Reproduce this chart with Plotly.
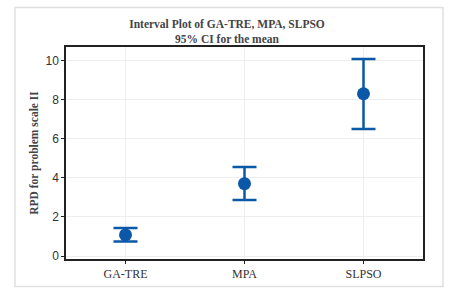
import plotly.graph_objects as go

categories = ["GA-TRE", "MPA", "SLPSO"]
means = [1.08, 3.70, 8.30]
upper = [1.44, 4.55, 10.08]
lower = [0.75, 2.87, 6.50]
y_ticks = [0, 2, 4, 6, 8, 10]

err_plus = [u - m for u, m in zip(upper, means)]
err_minus = [m - l for m, l in zip(means, lower)]

blue = "#0B57A8"
serif = "Liberation Serif, Times New Roman, serif"
sans = "Liberation Sans, Arial, sans-serif"

fig = go.Figure()
fig.add_trace(go.Scatter(
    x=categories, y=means, mode="markers",
    marker=dict(color=blue, size=13),
    error_y=dict(type="data", symmetric=False, array=err_plus, arrayminus=err_minus,
                 color=blue, thickness=2.5, width=12),
    showlegend=False,
))

fig.update_layout(
    width=454, height=293,
    margin=dict(l=66, r=31, t=47, b=31),
    paper_bgcolor="white", plot_bgcolor="white",
    title=dict(
        text="<b>Interval Plot of GA-TRE, MPA, SLPSO</b><br><b>95% CI for the mean</b>",
        x=0.5, xanchor="center", y=0.905, yanchor="top",
        font=dict(family=serif, size=11.5, color="#444444"),
    ),
    xaxis=dict(
        type="category", range=[-0.5, 2.5],
        showgrid=True, gridcolor="#EEEEEE", gridwidth=1,
        showline=True, linecolor="#222222", linewidth=1.5, mirror=True,
        ticks="outside", ticklen=3, tickcolor="#222222",
        tickfont=dict(family=serif, size=12, color="#333333"),
        zeroline=False,
    ),
    yaxis=dict(
        range=[-0.15, 10.69], tickvals=y_ticks,
        showgrid=True, gridcolor="#EEEEEE", gridwidth=1,
        showline=True, linecolor="#222222", linewidth=1.5, mirror=True,
        ticks="outside", ticklen=3, tickcolor="#222222",
        tickfont=dict(family=sans, size=12, color="#333333"),
        zeroline=False,
        title=dict(text="<b>RPD for problem scale II</b>", standoff=4,
                   font=dict(family=serif, size=11.5, color="#444444")),
    ),
    shapes=[dict(type="rect", xref="paper", yref="paper",
                 x0=-0.143, x1=1.056, y0=-0.130, y1=1.186,
                 line=dict(color="#E0E0E0", width=1.5), fillcolor="rgba(0,0,0,0)",
                 layer="above")],
)

fig.write_html("out.html", config={"displayModeBar": False},
               post_script="document.body.style.margin='0px';document.body.style.overflow='hidden';")
